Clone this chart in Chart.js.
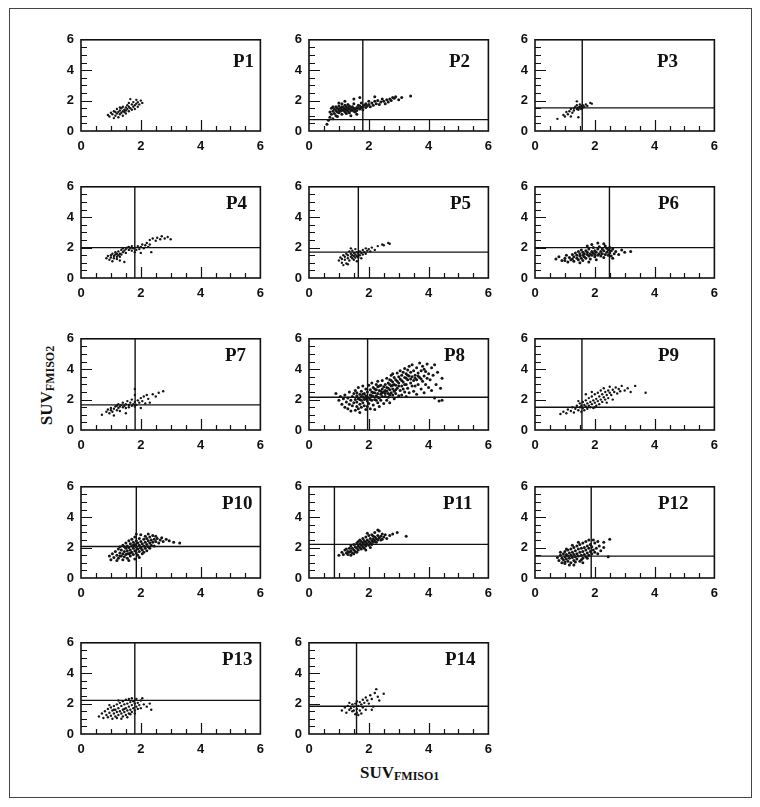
<!DOCTYPE html>
<html><head><meta charset="utf-8">
<script src="https://cdn.jsdelivr.net/npm/chart.js@4.4.1/dist/chart.umd.min.js"></script>
<style>
body{margin:0;background:#fff;width:760px;height:807px;position:relative;overflow:hidden}
#frame{position:absolute;left:9px;top:8px;width:741px;height:788px;border:1px solid #444}
canvas.pc{position:absolute}
.plab{position:absolute;font:bold 19px "Liberation Serif","Times New Roman",serif;color:#111;line-height:19px;white-space:nowrap}
.ttl{position:absolute;font:bold 17px "Liberation Serif","Times New Roman",serif;color:#111;line-height:17px;white-space:nowrap}
.ttl span{font-size:12px;position:relative;top:2px}
</style></head><body>
<div id="frame"></div>
<div class="ttl" style="left:360px;top:764px">SUV<span>FMISO1</span></div>
<div class="ttl" style="left:7px;top:376px;width:80px;text-align:center;transform:rotate(-90deg)">SUV<span>FMISO2</span></div>
<script>
const panelNames = ['P1','P2','P3','P4','P5','P6','P7','P8','P9','P10','P11','P12','P13','P14'];
const xTicks = [0,2,4,6];
const yTicks = [0,2,4,6];
const cutX = [null,1.8,1.58,1.8,1.65,2.49,1.81,1.96,1.57,1.85,0.85,1.88,1.8,1.59];
const cutY = [null,0.75,1.52,2.0,1.7,2.0,1.65,2.15,1.5,2.07,2.21,1.44,2.21,1.83];

const p1 = [[0.9,1.05],[0.95,0.95],[1.0,1.2],[1.05,1.1],[1.1,0.85],[1.1,1.3],[1.15,1.0],[1.2,1.15],[1.2,1.45],[1.25,1.25],[1.25,0.9],[1.3,1.35],[1.3,1.1],[1.35,1.5],[1.35,1.2],[1.4,1.3],[1.4,1.6],[1.4,1.0],[1.45,1.4],[1.45,1.25],[1.5,1.55],[1.5,1.35],[1.5,1.15],[1.55,1.7],[1.55,1.45],[1.6,1.3],[1.6,1.6],[1.6,1.85],[1.65,1.5],[1.7,1.75],[1.7,1.4],[1.75,1.6],[1.75,1.9],[1.8,1.7],[1.8,1.45],[1.85,1.8],[1.85,2.05],[1.9,1.6],[1.9,1.9],[1.95,1.75],[2.0,2.0],[2.05,1.85],[1.65,2.1],[1.3,1.55],[1.15,1.25]];
const p2 = [[0.6,0.45],[0.65,0.7],[0.7,0.9],[0.7,1.25],[0.75,1.1],[0.75,1.5],[0.8,1.3],[0.8,0.8],[0.85,1.45],[0.85,1.15],[0.9,1.35],[0.9,1.6],[0.9,1.0],[0.95,1.25],[0.95,1.5],[1.0,1.4],[1.0,1.2],[1.0,1.65],[1.05,1.3],[1.05,1.5],[1.1,1.1],[1.1,1.4],[1.1,1.6],[1.15,1.35],[1.15,1.55],[1.2,1.25],[1.2,1.45],[1.2,1.7],[1.25,1.4],[1.25,1.15],[1.3,1.5],[1.3,1.3],[1.3,1.75],[1.35,1.45],[1.35,1.2],[1.4,1.55],[1.4,1.35],[1.45,1.6],[1.45,1.4],[1.5,1.3],[1.5,1.5],[1.5,1.8],[1.55,1.45],[1.6,1.55],[1.6,1.35],[1.65,1.7],[1.65,1.5],[1.7,1.45],[1.7,1.65],[1.75,1.55],[1.75,1.85],[1.8,1.6],[1.8,1.4],[1.85,1.7],[1.9,1.55],[1.9,1.8],[1.95,1.65],[2.0,1.75],[2.0,1.95],[2.05,1.6],[2.1,1.85],[2.15,1.7],[2.2,1.95],[2.25,1.8],[2.3,2.0],[2.35,1.75],[2.4,1.9],[2.45,2.1],[2.5,1.95],[2.55,1.8],[2.6,2.05],[2.65,1.9],[2.7,2.1],[2.75,2.0],[2.8,2.2],[2.85,2.15],[2.9,2.25],[3.0,2.05],[3.1,2.2],[3.4,2.3],[1.0,1.85],[1.2,1.95],[1.5,2.1],[1.7,2.2],[2.2,2.25],[1.4,1.0],[1.6,1.1],[0.8,1.6],[1.1,1.8],[1.35,1.65],[1.55,1.25],[1.25,1.6],[0.95,0.95]];
const p3 = [[0.75,0.8],[0.95,1.05],[1.0,0.95],[1.05,1.25],[1.1,1.1],[1.15,1.3],[1.2,1.45],[1.25,1.2],[1.3,1.5],[1.3,1.35],[1.35,1.6],[1.4,1.45],[1.4,1.7],[1.45,1.55],[1.45,1.4],[1.5,1.6],[1.5,1.75],[1.5,1.5],[1.55,1.65],[1.55,1.45],[1.6,1.55],[1.6,1.7],[1.65,1.6],[1.7,1.75],[1.75,1.65],[1.85,1.85],[1.9,1.8],[1.4,1.95],[1.2,0.95],[1.45,0.9]];
const p4 = [[0.85,1.3],[0.9,1.45],[0.95,1.2],[1.0,1.5],[1.0,1.35],[1.05,1.6],[1.05,1.1],[1.1,1.45],[1.1,1.3],[1.15,1.55],[1.15,1.7],[1.2,1.4],[1.2,1.6],[1.2,1.25],[1.25,1.5],[1.25,1.75],[1.3,1.6],[1.3,1.4],[1.35,1.85],[1.35,1.55],[1.4,1.7],[1.4,1.95],[1.45,1.8],[1.5,1.9],[1.5,1.65],[1.55,2.0],[1.6,1.85],[1.6,2.05],[1.65,1.95],[1.7,1.8],[1.7,2.1],[1.75,1.95],[1.8,2.0],[1.85,1.85],[1.9,2.1],[1.95,1.9],[2.0,2.05],[2.05,2.2],[2.1,1.95],[2.15,2.15],[2.2,2.3],[2.25,2.05],[2.3,2.2],[2.3,2.5],[2.4,2.6],[2.5,2.45],[2.55,2.65],[2.65,2.55],[2.7,2.75],[2.8,2.6],[2.9,2.7],[3.0,2.55],[2.0,1.65],[1.8,1.7],[1.3,1.15],[1.45,1.05],[2.35,1.7]];
const p5 = [[1.0,1.15],[1.05,1.35],[1.1,1.0],[1.1,1.25],[1.15,1.5],[1.2,1.2],[1.2,1.4],[1.25,1.6],[1.25,0.95],[1.3,1.3],[1.3,1.5],[1.35,1.75],[1.35,1.15],[1.4,1.4],[1.4,1.6],[1.45,1.3],[1.45,1.5],[1.45,1.8],[1.5,1.2],[1.5,1.45],[1.5,1.65],[1.55,1.35],[1.55,1.55],[1.55,1.9],[1.6,1.45],[1.6,1.7],[1.6,1.1],[1.65,1.6],[1.65,1.35],[1.7,1.75],[1.7,1.5],[1.75,1.65],[1.8,1.85],[1.8,1.55],[1.85,1.7],[1.9,1.95],[1.9,1.6],[1.95,1.8],[2.0,1.9],[2.05,1.75],[2.1,2.0],[2.2,1.85],[2.3,2.1],[2.45,2.2],[2.5,2.15],[2.65,2.3],[2.7,2.25],[1.3,0.9],[1.15,0.85],[1.75,1.3],[1.4,1.95]];
const p6 = [[0.7,1.25],[0.8,1.4],[0.9,1.15],[1.0,1.3],[1.05,1.5],[1.1,1.05],[1.15,1.35],[1.2,1.2],[1.25,1.55],[1.3,1.4],[1.3,1.1],[1.35,1.65],[1.4,1.3],[1.4,1.5],[1.45,1.2],[1.45,1.75],[1.5,1.45],[1.5,1.6],[1.55,1.3],[1.55,1.85],[1.6,1.5],[1.6,1.7],[1.6,1.15],[1.65,1.4],[1.65,1.6],[1.7,1.8],[1.7,1.3],[1.75,1.55],[1.75,1.7],[1.8,1.45],[1.8,1.9],[1.85,1.6],[1.85,1.25],[1.9,1.75],[1.9,1.5],[1.95,1.65],[1.95,2.0],[2.0,1.4],[2.0,1.55],[2.0,1.8],[2.05,1.7],[2.05,1.2],[2.1,1.5],[2.1,1.9],[2.15,1.6],[2.15,2.05],[2.2,1.45],[2.2,1.75],[2.25,1.6],[2.25,1.9],[2.3,1.35],[2.3,1.8],[2.35,1.55],[2.35,2.1],[2.4,1.7],[2.4,1.95],[2.45,1.5],[2.45,1.85],[2.5,1.65],[2.5,2.0],[2.55,1.8],[2.55,1.45],[2.6,1.9],[2.65,1.6],[2.7,1.75],[2.8,1.55],[2.9,1.85],[3.0,1.7],[3.2,1.75],[1.9,2.2],[2.1,2.3],[1.75,2.1],[1.5,1.0],[1.8,1.05],[2.3,2.25],[1.0,1.15],[1.25,1.25],[2.6,1.3]];
const p7 = [[0.7,1.0],[0.85,1.2],[0.9,1.35],[0.95,1.1],[1.0,1.3],[1.0,1.45],[1.05,1.2],[1.1,1.4],[1.1,0.95],[1.15,1.55],[1.2,1.3],[1.2,1.6],[1.25,1.45],[1.25,1.7],[1.3,1.55],[1.3,1.25],[1.35,1.65],[1.4,1.5],[1.4,1.8],[1.45,1.6],[1.5,1.7],[1.5,1.45],[1.55,1.9],[1.6,1.65],[1.6,1.5],[1.65,1.8],[1.7,1.6],[1.7,2.0],[1.75,1.7],[1.8,1.55],[1.8,1.85],[1.8,2.3],[1.8,2.7],[1.85,1.65],[1.9,1.95],[1.95,1.8],[2.0,2.1],[2.05,1.9],[2.1,2.2],[2.15,1.75],[2.2,2.3],[2.25,2.05],[2.3,1.8],[2.4,2.35],[2.5,2.2],[2.6,2.45],[2.75,2.55],[2.0,1.45],[1.5,1.1]];
const p8 = [[0.9,2.4],[1.0,1.95],[1.05,2.2],[1.1,1.7],[1.15,2.05],[1.2,1.5],[1.2,2.3],[1.25,1.85],[1.3,2.1],[1.3,1.4],[1.35,1.7],[1.35,2.5],[1.4,1.95],[1.4,1.25],[1.45,2.2],[1.45,1.6],[1.5,1.8],[1.5,2.4],
[1.55,1.3],[1.55,2.0],[1.55,2.6],[1.6,1.55],[1.6,1.85],[1.6,2.25],[1.65,1.4],[1.65,2.05],[1.65,2.8],[1.7,1.7],[1.7,2.35],[1.7,1.15],[1.75,1.95],[1.75,2.55],[1.75,1.5],[1.8,2.15],[1.8,1.8],[1.8,2.9],[1.85,1.6],[1.85,2.4],[1.85,2.0],[1.9,1.35],[1.9,2.25],[1.9,2.7],[1.95,1.9],[1.95,2.5],[1.95,1.55],[2.0,2.1],[2.0,2.95],[2.0,1.75],[1.6,2.45],[1.7,2.0],[1.8,2.35],[1.9,2.05],[1.75,2.2],
[2.05,1.4],[2.05,2.3],[2.05,2.65],[2.1,1.95],[2.1,2.5],[2.1,3.1],[2.15,1.65],[2.15,2.2],[2.15,2.8],[2.2,2.0],[2.2,2.45],[2.2,1.35],[2.25,2.65],[2.25,2.25],[2.25,3.0],[2.3,1.8],[2.3,2.4],[2.3,2.85],[2.35,2.1],[2.35,2.6],[2.35,1.55],[2.4,2.35],[2.4,2.95],[2.4,1.95],[2.45,2.7],[2.45,2.2],[2.45,3.25],[2.5,2.5],[2.5,1.75],[2.5,2.85],[2.1,2.25],[2.2,2.7],[2.3,2.15],[2.4,2.55],[2.15,2.45],[2.25,1.95],[2.35,2.9],[2.45,2.45],[2.05,2.0],[2.3,3.2],
[2.55,2.2],[2.55,3.0],[2.55,2.6],[2.6,1.95],[2.6,2.8],[2.6,3.4],[2.65,2.4],[2.65,3.1],[2.65,2.15],[2.7,2.65],[2.7,3.3],[2.7,1.8],[2.75,2.9],[2.75,2.45],[2.75,3.6],[2.8,2.3],[2.8,3.15],[2.8,2.7],[2.85,3.45],[2.85,2.55],[2.85,2.05],[2.9,2.95],[2.9,3.3],[2.9,2.4],[2.95,3.75],[2.95,2.75],[3.0,3.1],[3.0,2.25],[3.0,3.5],[2.6,2.55],[2.7,3.0],[2.8,2.95],[2.9,2.65],[2.65,2.75],[2.75,3.25],[2.85,3.0],[2.95,3.2],[2.55,2.4],[2.8,3.7],[2.7,2.3],
[3.05,2.6],[3.05,3.35],[3.05,3.9],[3.1,2.9],[3.1,3.6],[3.1,2.3],[3.15,3.15],[3.15,3.8],[3.15,2.7],[3.2,3.45],[3.2,2.5],[3.2,4.05],[3.25,3.0],[3.25,3.7],[3.25,2.2],[3.3,3.3],[3.3,3.95],[3.3,2.75],[3.35,3.55],[3.35,2.45],[3.35,4.2],[3.4,3.1],[3.4,3.8],[3.45,2.9],[3.45,3.5],[3.45,4.3],[3.5,3.25],[3.5,2.55],[3.5,3.9],[3.1,3.25],[3.2,3.0],[3.3,3.6],[3.4,3.35],[3.0,2.9],[3.25,3.4],
[3.55,3.6],[3.55,2.9],[3.6,4.1],[3.6,3.3],[3.6,2.35],[3.65,3.75],[3.65,3.0],[3.7,4.4],[3.7,3.45],[3.75,2.7],[3.75,3.9],[3.8,3.2],[3.8,4.2],[3.85,3.55],[3.85,2.45],[3.9,3.85],[3.9,3.0],[3.95,4.35],[3.95,3.4],[4.0,3.7],[4.0,2.8],[3.65,3.55],[3.75,3.35],[3.55,3.4],[3.85,4.0],
[4.05,3.3],[4.1,4.1],[4.1,2.6],[4.15,3.6],[4.2,4.3],[4.2,2.1],[4.25,3.0],[4.3,3.8],[4.35,1.9],[4.4,2.75],[4.45,1.95],[4.45,3.4]];
const p9 = [[0.85,1.05],[0.95,1.2],[1.05,1.1],[1.1,1.35],[1.2,1.25],[1.25,1.5],[1.3,1.15],[1.35,1.4],[1.4,1.6],[1.45,1.3],[1.5,1.5],[1.5,1.75],[1.55,1.2],[1.55,1.6],[1.6,1.45],[1.6,1.85],[1.65,1.3],[1.65,1.65],[1.7,1.55],[1.7,1.95],[1.75,1.4],[1.75,1.75],[1.8,1.6],[1.8,2.1],[1.85,1.5],[1.85,1.85],[1.9,1.7],[1.9,2.2],[1.95,1.45],[1.95,1.95],[2.0,1.8],[2.0,2.35],[2.05,1.6],[2.05,2.05],[2.1,1.9],[2.1,2.45],[2.15,1.7],[2.15,2.2],[2.2,2.0],[2.2,2.6],[2.25,1.85],[2.25,2.35],[2.3,2.15],[2.3,2.75],[2.35,2.0],[2.35,2.5],[2.4,2.3],[2.45,2.6],[2.45,2.1],[2.5,2.45],[2.5,2.85],[2.55,2.3],[2.6,2.65],[2.65,2.5],[2.7,2.8],[2.75,2.4],[2.8,2.7],[2.85,2.55],[2.9,2.9],[3.0,2.6],[3.1,2.75],[3.2,2.5],[3.35,2.9],[3.7,2.45],[1.7,2.35],[1.9,2.5],[2.6,2.0],[2.0,1.5],[1.45,1.9],[2.4,1.8]];
const p10 = [[0.95,1.45],[1.0,1.2],[1.05,1.6],[1.1,1.35],[1.15,1.75],[1.2,1.5],[1.2,1.15],[1.25,1.9],[1.25,1.3],[1.3,1.65],[1.3,2.05],[1.35,1.45],[1.35,1.85],[1.4,1.2],[1.4,1.6],[1.4,2.15],[1.45,1.75],[1.45,1.4],[1.5,1.95],[1.5,1.55],[1.5,2.3],[1.55,1.3],[1.55,1.8],[1.55,2.1],[1.6,1.6],[1.6,2.0],[1.6,2.45],[1.65,1.45],[1.65,1.85],[1.65,2.25],[1.7,1.7],[1.7,2.1],[1.7,2.55],[1.75,1.55],[1.75,1.95],[1.75,2.35],[1.8,1.25],[1.8,1.8],[1.8,2.2],[1.8,2.7],[1.85,1.65],[1.85,2.05],[1.85,2.45],[1.9,1.9],[1.9,2.3],[1.9,1.5],[1.95,2.15],[1.95,2.6],[1.95,1.75],[2.0,2.0],[2.0,2.4],[2.0,2.85],[2.05,1.85],[2.05,2.25],[2.05,1.6],[2.1,2.1],[2.1,2.55],[2.15,1.95],[2.15,2.35],[2.15,2.75],[2.2,2.2],[2.2,1.8],[2.2,2.6],[2.25,2.45],[2.25,2.05],[2.3,2.3],[2.3,2.7],[2.35,2.15],[2.35,2.5],[2.4,2.35],[2.4,2.8],[2.45,2.55],[2.45,2.1],[2.5,2.4],[2.5,2.75],[2.55,2.6],[2.6,2.3],[2.65,2.5],[2.7,2.65],[2.75,2.4],[2.85,2.55],[2.95,2.45],[3.1,2.35],[3.3,2.3],[1.6,1.15],[1.3,1.45],[1.45,2.05],[1.75,2.15],[2.1,1.7],[1.85,2.9],[2.3,1.95],[1.65,1.65],[1.95,1.35],[2.0,1.95],[1.55,1.6],[2.25,2.9]];
const p11 = [[1.0,1.5],[1.1,1.7],[1.15,1.55],[1.2,1.85],[1.25,1.65],[1.3,1.75],[1.3,1.55],[1.35,1.95],[1.35,1.7],[1.4,1.8],[1.4,2.1],[1.45,1.65],[1.45,1.95],[1.5,1.85],[1.5,2.2],[1.55,1.75],[1.55,2.05],[1.6,1.95],[1.6,2.3],[1.6,1.7],[1.65,2.1],[1.65,1.85],[1.7,2.25],[1.7,2.0],[1.7,2.5],[1.75,1.9],[1.75,2.15],[1.75,2.4],[1.8,2.05],[1.8,2.3],[1.8,2.6],[1.85,2.2],[1.85,1.95],[1.85,2.45],[1.9,2.35],[1.9,2.1],[1.9,2.7],[1.95,2.25],[1.95,2.5],[2.0,2.15],[2.0,2.4],[2.0,2.8],[2.05,2.3],[2.05,2.6],[2.1,2.45],[2.1,2.2],[2.1,2.85],[2.15,2.55],[2.15,2.35],[2.2,2.7],[2.2,2.45],[2.2,3.0],[2.25,2.6],[2.25,2.35],[2.3,2.8],[2.3,2.5],[2.35,2.65],[2.35,3.1],[2.4,2.75],[2.4,2.5],[2.45,2.9],[2.5,2.7],[2.55,2.85],[2.6,2.6],[2.7,2.8],[2.8,2.9],[2.95,3.0],[3.25,2.75],[1.25,1.9],[1.5,1.6],[1.65,2.4],[1.9,1.85],[2.05,2.0],[2.3,3.15],[1.4,1.5],[2.15,2.75],[1.95,2.95],[2.45,2.55]];
const p12 = [[0.75,1.35],[0.8,1.15],[0.85,1.5],[0.9,1.0],[0.9,1.3],[0.95,1.6],[0.95,1.2],[1.0,1.4],[1.0,1.75],[1.0,0.95],[1.05,1.25],[1.05,1.55],[1.1,1.85],[1.1,1.1],[1.1,1.45],[1.15,1.65],[1.15,1.3],[1.2,1.0],[1.2,1.5],[1.2,1.9],[1.25,1.35],[1.25,1.7],[1.3,1.15],[1.3,1.55],[1.3,2.0],[1.35,1.4],[1.35,1.8],[1.4,1.25],[1.4,1.6],[1.4,2.1],[1.45,1.45],[1.45,1.9],[1.5,1.1],[1.5,1.7],[1.5,2.2],[1.55,1.5],[1.55,1.95],[1.6,1.3],[1.6,1.75],[1.6,2.3],[1.65,1.55],[1.65,2.0],[1.7,1.4],[1.7,1.85],[1.7,2.4],[1.75,1.65],[1.75,2.1],[1.8,1.5],[1.8,1.95],[1.8,2.5],[1.85,1.75],[1.85,2.2],[1.9,1.6],[1.9,2.05],[1.95,1.85],[2.0,1.7],[2.0,2.3],[2.05,1.95],[2.1,1.6],[2.15,2.1],[2.2,1.8],[2.3,2.0],[2.45,1.4],[2.5,2.55],[1.0,1.05],[1.15,0.85],[1.35,1.05],[1.55,1.2],[1.25,2.15],[1.45,2.35],[0.85,1.7],[1.75,1.3],[1.95,2.5],[2.3,2.35],[1.05,1.9],[1.3,0.85],[1.6,1.0],[2.1,2.4]];
const p13 = [[0.6,1.15],[0.7,1.35],[0.75,1.05],[0.8,1.5],[0.85,1.25],[0.9,1.65],[0.9,1.1],[0.95,1.4],[1.0,1.2],[1.0,1.75],[1.05,1.55],[1.05,1.0],[1.1,1.35],[1.1,1.85],[1.15,1.6],[1.15,1.15],[1.2,1.45],[1.2,1.95],[1.25,1.25],[1.25,1.7],[1.3,1.5],[1.3,2.05],[1.35,1.35],[1.35,1.85],[1.4,1.6],[1.4,2.15],[1.4,1.15],[1.45,1.45],[1.45,1.95],[1.5,1.7],[1.5,2.25],[1.5,1.25],[1.55,1.55],[1.55,2.0],[1.6,1.35],[1.6,1.8],[1.6,2.3],[1.65,1.6],[1.65,2.1],[1.7,1.45],[1.7,1.9],[1.7,2.35],[1.75,1.7],[1.75,2.15],[1.8,1.55],[1.8,2.0],[1.85,1.8],[1.85,2.3],[1.9,1.65],[1.9,2.05],[1.95,1.9],[2.0,2.2],[2.0,1.7],[2.1,1.95],[2.2,1.8],[2.3,2.0],[2.35,1.6],[1.2,1.05],[1.35,1.0],[1.55,1.1],[0.95,1.9],[1.25,2.2],[1.65,1.3],[2.05,2.35],[1.8,1.35],[1.45,1.65],[1.1,1.6]];
const p14 = [[1.1,1.55],[1.2,1.75],[1.25,1.4],[1.3,1.85],[1.35,1.6],[1.4,1.7],[1.45,1.5],[1.45,1.95],[1.5,1.8],[1.55,1.3],[1.55,2.0],[1.6,1.65],[1.6,2.15],[1.6,1.4],[1.65,1.85],[1.7,2.1],[1.7,1.55],[1.75,1.95],[1.8,2.25],[1.8,1.75],[1.85,2.05],[1.9,2.4],[1.9,1.6],[1.95,2.2],[2.0,2.0],[2.05,2.55],[2.1,2.3],[2.15,1.8],[2.2,2.7],[2.25,2.95],[2.3,2.45],[2.35,2.2],[2.5,2.65],[1.65,1.25],[1.75,1.35],[1.5,1.55],[2.1,1.6],[1.35,2.05]];
const panelData = [p1,p2,p3,p4,p5,p6,p7,p8,p9,p10,p11,p12,p13,p14];

// layout (pixels)
const colLeft = [81, 309, 535];
const rowTop = [33, 180, 332, 480, 636];
const PW = 181, PH = 98, AXW = 40, AXH = 26, PADT = 8, PADR = 10;
const labelLeft = [233,449,657,226,450,658,225,444,658,222,443,658,222,445];
const innerTicks = [0.5,1,1.5,2,2.5,3,3.5,4,4.5,5,5.5];

const framePlugin = {
  id: 'frameTicks',
  afterDatasetsDraw(chart) {
    const {ctx, chartArea: a, scales: {x, y}} = chart;
    ctx.save();
    ctx.strokeStyle = '#111';
    ctx.lineWidth = 1.2;
    ctx.beginPath();
    innerTicks.forEach(v => {
      const major = (v % 2 === 0);
      const px = Math.round(x.getPixelForValue(v)) + 0.5;
      ctx.moveTo(px, a.bottom); ctx.lineTo(px, a.bottom - (major ? 11 : 5));
      const py = Math.round(y.getPixelForValue(v)) + 0.5;
      ctx.moveTo(a.left, py); ctx.lineTo(a.left + (major ? 11 : 6), py);
    });
    ctx.stroke();
    ctx.lineWidth = 1.6;
    ctx.strokeRect(a.left, a.top, a.right - a.left, a.bottom - a.top);
    ctx.restore();
  }
};

const tickFont = {family: '"Liberation Sans", Arial, sans-serif', size: 13, weight: 'bold'};

panelData.forEach((pts, i) => {
  const col = i % 3, row = Math.floor(i / 3);
  const c = document.createElement('canvas');
  c.className = 'pc';
  const W = AXW + PW + PADR, H = PADT + PH + AXH;
  c.width = W; c.height = H;
  c.style.left = (colLeft[col] - AXW) + 'px';
  c.style.top = (rowTop[row] - PADT) + 'px';
  c.style.width = W + 'px'; c.style.height = H + 'px';
  document.body.appendChild(c);

  const lab = document.createElement('div');
  lab.className = 'plab';
  lab.textContent = panelNames[i];
  lab.style.left = labelLeft[i] + 'px';
  lab.style.top = (rowTop[row] + (row === 0 ? 34 : 29) - 16) + 'px';
  document.body.appendChild(lab);

  const dense = pts.length > 70;
  const datasets = [{
    data: pts.map(p => ({x: p[0], y: p[1]})),
    pointRadius: dense ? 1.5 : 1.2,
    pointBackgroundColor: '#151515',
    pointBorderWidth: 0,
    showLine: false
  }];
  if (cutX[i] !== null) {
    datasets.push({data: [{x: cutX[i], y: 0}, {x: cutX[i], y: 6}], showLine: true, pointRadius: 0, borderColor: '#111', borderWidth: 1.4});
    datasets.push({data: [{x: 0, y: cutY[i]}, {x: 6, y: cutY[i]}], showLine: true, pointRadius: 0, borderColor: '#111', borderWidth: 1.4});
  }
  new Chart(c, {
    type: 'scatter',
    data: {datasets},
    options: {
      responsive: false, animation: false, devicePixelRatio: 1,
      events: [],
      plugins: {legend: {display: false}, tooltip: {enabled: false}},
      layout: {padding: {left: 0, right: PADR, top: PADT, bottom: 0}},
      scales: {
        x: {
          type: 'linear', min: 0, max: 6,
          afterBuildTicks(s) { s.ticks = xTicks.map(v => ({value: v})); },
          ticks: {padding: 8, font: tickFont, color: '#111', maxRotation: 0, autoSkip: false},
          grid: {display: false, drawTicks: false}, border: {display: false},
          afterFit(s) { s.height = AXH; }
        },
        y: {
          type: 'linear', min: 0, max: 6,
          afterBuildTicks(s) { s.ticks = yTicks.map(v => ({value: v})); },
          ticks: {padding: 7, font: tickFont, color: '#111', autoSkip: false},
          grid: {display: false, drawTicks: false}, border: {display: false},
          afterFit(s) { s.width = AXW; }
        }
      }
    },
    plugins: [framePlugin]
  });
});
</script>
</body></html>
